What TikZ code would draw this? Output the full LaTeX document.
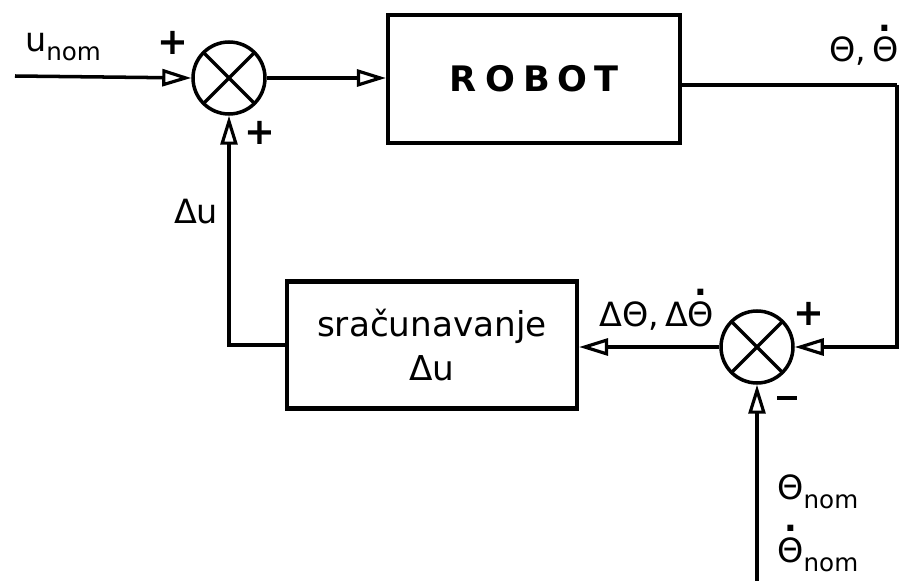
\documentclass[tikz,border=0pt]{standalone}
\usepackage{fontspec}
\setmainfont{DejaVu Sans}
\usepackage{tikz}
\usetikzlibrary{arrows.meta,positioning,calc}
\newcommand{\Thdot}{\shortstack[c]{\raisebox{-2.5pt}{\bfseries .}\\Θ}}
\newcommand{\nomsub}{\raisebox{-0.5ex}{\fontsize{14}{14}\selectfont nom}}

\begin{document}
\begin{tikzpicture}[x=0.02cm, y=-0.02cm,
    block/.style={draw, line width=2.4pt, minimum width=5.8cm, minimum height=2.54cm, inner sep=0pt, font=\fontsize{19.5}{24}\selectfont, align=center},
    sumnode/.style={draw, circle, line width=2pt, minimum size=1.44cm, inner sep=0pt,
        path picture={\draw[line width=2pt] (path picture bounding box.north west) -- (path picture bounding box.south east)
            (path picture bounding box.north east) -- (path picture bounding box.south west);}},
    arrow/.style={-{Triangle[open, length=0.58cm, width=0.34cm, line width=1.8pt]}, line width=2pt},
    lbl/.style={font=\fontsize{19}{23}\selectfont, inner sep=0pt},
    sgn/.style={font=\fontsize{21}{21}\selectfont\bfseries, inner sep=0pt}
]
    \useasboundingbox (0,0) rectangle (903,581);

    % Blocks and summing junctions
    \node[sumnode] (sum1) at (229,78) {};
    \node[block, minimum width=5.84cm, minimum height=2.56cm] (robot) at (534,79)
        {\bfseries\fontsize{20}{22}\selectfont R\hspace{5pt}O\hspace{5pt}B\hspace{4pt}O\hspace{4pt}T};
    \node[sumnode] (sum2) at (757,347) {};
    \node[block] (calc) at (432,345) {sračunavanje\\[1pt]Δu};

    % Free ends
    \coordinate (uin) at (15,76);
    \coordinate (corner) at (897,85);
    \coordinate (thin) at (757,581);

    % Arrows
    \draw[arrow] (uin) -- (sum1.west);
    \draw[arrow] (sum1.east) -- (sum1.east -| robot.west);
    \draw[line width=2pt] (robot.east |- corner) -- (corner);
    \draw[arrow] (corner) |- (sum2.east);
    \draw[arrow] (thin) -- (sum2.south);
    \draw[arrow] (sum2.west) -- (sum2.west -| calc.east);
    \draw[arrow] (calc.west) -| (sum1.south);

    % Labels
    \node[lbl] (lu) at (63,47) {u\nomsub};
    \node[sgn] (p1) at (173,43) {+};
    \node[sgn] (p2) at (260,133) {+};
    \node[lbl] (ldu) at (196,212) {Δu};
    \node[lbl, anchor=base] (lth) at (864,62) {Θ,\,\Thdot};
    \node[lbl, anchor=base] (ldth) at (657,326) {ΔΘ,\,Δ\Thdot};
    \node[sgn] (p3) at (809,314) {+};
    \node[sgn] (m3) at (787,398) {\rule{0.4cm}{0.08cm}};
    \node[lbl, anchor=base west] (lthn) at (777,499) {Θ\nomsub};
    \node[lbl, anchor=base west] (lthdn) at (777,562) {\Thdot\nomsub};
\end{tikzpicture}
\end{document}
